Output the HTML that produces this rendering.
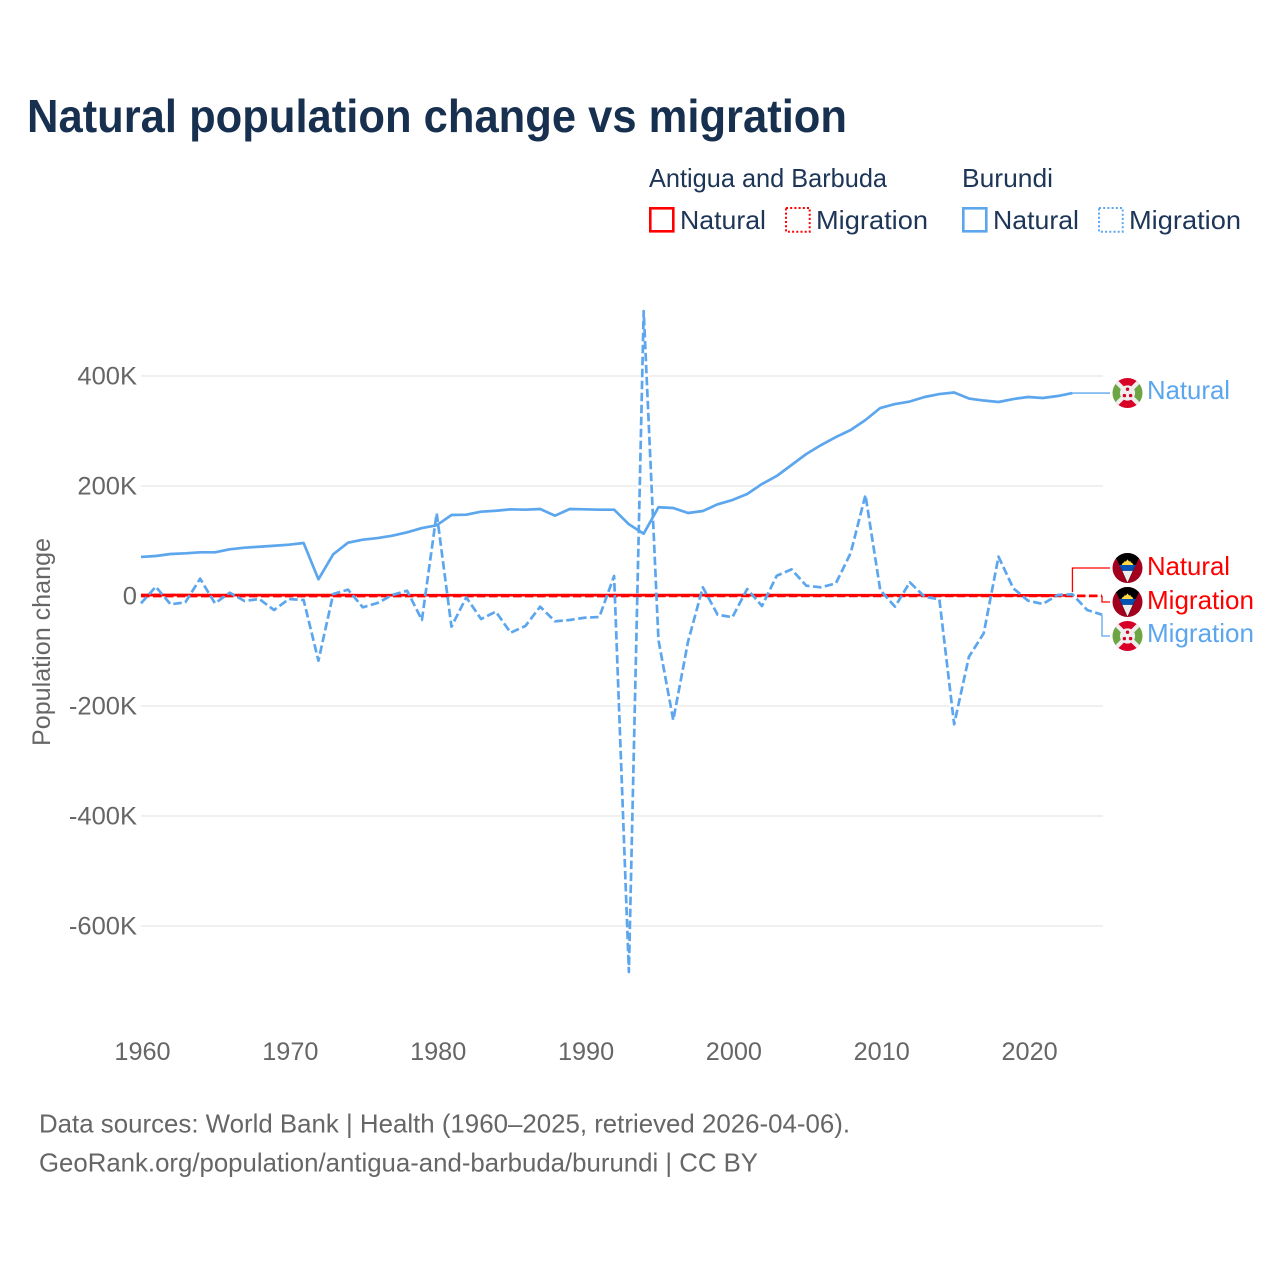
<!DOCTYPE html>
<html lang="en">
<head>
<meta charset="utf-8">
<title>Natural population change vs migration</title>
<style>
html,body{margin:0;padding:0;background:#fff;}
svg{display:block;}
text{font-family:"Liberation Sans",sans-serif;}
</style>
</head>
<body>
<svg id="chart" xmlns="http://www.w3.org/2000/svg" width="1280" height="1280" viewBox="0 0 1280 1280">
  <rect width="1280" height="1280" fill="#fff"/>
  <text x="27" y="132" font-size="46" font-weight="700" fill="#18304f" textLength="820" lengthAdjust="spacingAndGlyphs">Natural population change vs migration</text>

  <g font-size="26" fill="#1d3557">
    <text x="649" y="187" textLength="238" lengthAdjust="spacingAndGlyphs">Antigua and Barbuda</text>
    <text x="962" y="187" textLength="91" lengthAdjust="spacingAndGlyphs">Burundi</text>
    <g>
      <rect x="650.3" y="208.3" width="23" height="23" fill="none" stroke="#ff0000" stroke-width="2.6"/>
      <text x="680" y="229" textLength="86" lengthAdjust="spacingAndGlyphs">Natural</text>
    </g>
    <g>
      <rect x="786" y="208" width="23.7" height="23.7" fill="none" stroke="#ff0000" stroke-width="2" stroke-dasharray="2,2.2"/>
      <text x="816" y="229" textLength="112" lengthAdjust="spacingAndGlyphs">Migration</text>
    </g>
    <g>
      <rect x="963.3" y="208.3" width="23" height="23" fill="none" stroke="#5ca6ee" stroke-width="2.6"/>
      <text x="993" y="229" textLength="86" lengthAdjust="spacingAndGlyphs">Natural</text>
    </g>
    <g>
      <rect x="1099" y="208" width="23.7" height="23.7" fill="none" stroke="#5ca6ee" stroke-width="2" stroke-dasharray="2,2.2"/>
      <text x="1129" y="229" textLength="112" lengthAdjust="spacingAndGlyphs">Migration</text>
    </g>
  </g>

  <text transform="translate(50,642) rotate(-90)" text-anchor="middle" font-size="25" fill="#666" textLength="208" lengthAdjust="spacingAndGlyphs">Population change</text>

  <g id="grid"></g>
  <g id="yticks"></g>
  <g id="xticks"></g>
  <g id="connectors"></g>
  <g id="series"></g>

  <defs>
    <clipPath id="flag-clip"><circle cx="0" cy="0" r="15"/></clipPath>
  </defs>

  <g transform="translate(1127.5,393)">
    <g clip-path="url(#flag-clip)">
      <rect x="-15" y="-15" width="30" height="30" fill="#eee"/>
      <path d="M-15,-15L0,0L-15,15Z" fill="#6da544"/><path d="M15,-15L0,0L15,15Z" fill="#6da544"/>
      <path d="M-15,-15L0,0L15,-15Z" fill="#d80027"/><path d="M-15,15L0,0L15,15Z" fill="#d80027"/>
      <path d="M-15,-15L15,15M15,-15L-15,15" stroke="#eee" stroke-width="4.2" fill="none"/>
      <circle r="7.6" fill="#eee"/>
      <circle cx="0" cy="-3.8" r="1.7" fill="#d80027"/><circle cx="-3.1" cy="2.6" r="1.7" fill="#d80027"/><circle cx="3.1" cy="2.6" r="1.7" fill="#d80027"/>
    </g>
  </g>
  <g transform="translate(1127.5,636)">
    <g clip-path="url(#flag-clip)">
      <rect x="-15" y="-15" width="30" height="30" fill="#eee"/>
      <path d="M-15,-15L0,0L-15,15Z" fill="#6da544"/><path d="M15,-15L0,0L15,15Z" fill="#6da544"/>
      <path d="M-15,-15L0,0L15,-15Z" fill="#d80027"/><path d="M-15,15L0,0L15,15Z" fill="#d80027"/>
      <path d="M-15,-15L15,15M15,-15L-15,15" stroke="#eee" stroke-width="4.2" fill="none"/>
      <circle r="7.6" fill="#eee"/>
      <circle cx="0" cy="-3.8" r="1.7" fill="#d80027"/><circle cx="-3.1" cy="2.6" r="1.7" fill="#d80027"/><circle cx="3.1" cy="2.6" r="1.7" fill="#d80027"/>
    </g>
  </g>
  <g transform="translate(1127.5,568)">
    <g clip-path="url(#flag-clip)">
      <rect x="-15" y="-15" width="30" height="30" fill="#a2001d"/>
      <path d="M-15,-15H15V-9H11L0,15L-11,-9H-15Z" fill="#000"/>
      <path d="M-5.3,2.7L5.3,2.7L0,14.5Z" fill="#eee"/>
      <path d="M-8.3,-3L8.3,-3L5.4,2.7L-5.4,2.7Z" fill="#0052b4"/>
      <path d="M-6,-3L-4.3,-5.6L-3.8,-5L-2.5,-7.4L-1.8,-6.2L0,-8.6L1.8,-6.2L2.5,-7.4L3.8,-5L4.3,-5.6L6,-3Z" fill="#ffda44"/>
    </g>
  </g>
  <g transform="translate(1127.5,602)">
    <g clip-path="url(#flag-clip)">
      <rect x="-15" y="-15" width="30" height="30" fill="#a2001d"/>
      <path d="M-15,-15H15V-9H11L0,15L-11,-9H-15Z" fill="#000"/>
      <path d="M-5.3,2.7L5.3,2.7L0,14.5Z" fill="#eee"/>
      <path d="M-8.3,-3L8.3,-3L5.4,2.7L-5.4,2.7Z" fill="#0052b4"/>
      <path d="M-6,-3L-4.3,-5.6L-3.8,-5L-2.5,-7.4L-1.8,-6.2L0,-8.6L1.8,-6.2L2.5,-7.4L3.8,-5L4.3,-5.6L6,-3Z" fill="#ffda44"/>
    </g>
  </g>

  <g font-size="26">
    <text x="1147" y="399" fill="#5ca6ee" textLength="83" lengthAdjust="spacingAndGlyphs">Natural</text>
    <text x="1147" y="575" fill="#ff0000" textLength="83" lengthAdjust="spacingAndGlyphs">Natural</text>
    <text x="1147" y="609" fill="#ff0000" textLength="107" lengthAdjust="spacingAndGlyphs">Migration</text>
    <text x="1147" y="642" fill="#5ca6ee" textLength="107" lengthAdjust="spacingAndGlyphs">Migration</text>
  </g>

  <g font-size="26" fill="#666">
    <text x="39" y="1132.5" textLength="811" lengthAdjust="spacingAndGlyphs">Data sources: World Bank | Health (1960–2025, retrieved 2026-04-06).</text>
    <text x="39" y="1171.5" textLength="719" lengthAdjust="spacingAndGlyphs">GeoRank.org/population/antigua-and-barbuda/burundi | CC BY</text>
  </g>
</svg>
<script>
/* Values in thousands of people per year */
const years = [1960,1961,1962,1963,1964,1965,1966,1967,1968,1969,1970,1971,1972,1973,1974,1975,1976,1977,1978,1979,1980,1981,1982,1983,1984,1985,1986,1987,1988,1989,1990,1991,1992,1993,1994,1995,1996,1997,1998,1999,2000,2001,2002,2003,2004,2005,2006,2007,2008,2009,2010,2011,2012,2013,2014,2015,2016,2017,2018,2019,2020,2021,2022,2023,2024,2025];
const burundiNatural = [71,72.7,76.4,77.6,79.4,79.4,84.9,87.8,89.6,91.4,93.3,96.4,30.4,75.8,96.9,102.4,105.4,109.6,115.8,123.6,128.5,147.3,147.8,153.3,155,157.6,156.9,158.2,146,158.2,157.6,156.9,156.9,130.4,113.3,161.3,160,150.9,154.5,166.7,174.5,185.4,203.6,218.2,238.2,258.2,274.5,289,301.8,320,341.8,349,353.6,361.8,367.2,370,359,355.4,352.7,358.1,361.8,360,363.6,369];
const burundiMigration = [-13.3,16.9,-15.1,-11.5,31.5,-13.3,6,-9.1,-5.5,-25.5,-5.5,-7.3,-117.6,3.6,11.5,-20.5,-12.7,1.8,9.6,-43.6,150.4,-55.8,-2.4,-41.8,-28.5,-66.7,-54.5,-19.5,-46,-43.6,-39.5,-38.2,36.4,-683.6,518,-80,-225.5,-83,15.8,-34,-38.7,12.7,-18.2,36.9,48.5,18.7,15.8,23,78,183.6,10.9,-19.5,24.9,-1.3,-6,-233.3,-110.4,-67.8,71.5,14,-8.5,-14.5,1.8,3.1,-25.5,-34];
const antiguaNatural = [1.8,1.8,1.8,1.8,1.7,1.7,1.7,1.7,1.6,1.6,1.6,1.6,1.6,1.6,1.6,1.5,1.5,1.5,1.5,1.5,1.5,1.5,1.5,1.5,1.5,1.5,1.5,1.5,1.6,1.6,1.6,1.6,1.6,1.6,1.6,1.6,1.6,1.6,1.6,1.6,1.6,1.6,1.6,1.6,1.6,1.5,1.5,1.5,1.5,1.5,1.5,1.5,1.5,1.5,1.4,1.4,1.4,1.4,1.3,1.3,1.2,1.1,1,1];
const antiguaMigration = [-0.1,-0.1,-0.1,-0.1,-0.1,-0.1,-0.1,-0.1,-0.1,-0.1,-0.1,-0.1,-0.1,-0.1,-0.1,-0.1,-0.1,-0.1,-0.1,-0.1,-0.1,-0.1,-0.1,-0.1,-0.1,-0.1,-0.1,-0.1,0,0,0,0,0,0.1,0.1,0.2,0.2,0.2,0.2,0.3,0.3,0.3,0.3,0.3,0.3,0.3,0.3,0.3,0.3,0.3,0.3,0.3,0.3,0.3,0.3,0.3,0.3,0.3,0.3,0.3,0.3,0.3,0.3,0.3,0.3,0.3];
const yTickValues = [400,200,0,-200,-400,-600];
const xTickValues = [1960,1970,1980,1990,2000,2010,2020];

const NS = 'http://www.w3.org/2000/svg';
const COLOR_BLUE = '#5ca6ee';
const COLOR_RED = '#ff0000';
const DASH = '8.5,3.5';
const xAxis = v => 141 + (v - 1960) * (1102 - 141) / 65;
const yAxis = v => 596 - v * 0.55;

function mk(parent, tag, attrs, txt) {
  const el = document.createElementNS(NS, tag);
  for (const k in attrs) el.setAttribute(k, attrs[k]);
  if (txt !== undefined) el.textContent = txt;
  parent.appendChild(el);
  return el;
}
function fit(el, ratio) {
  const w = el.getComputedTextLength();
  el.setAttribute('textLength', (w * ratio).toFixed(1));
  el.setAttribute('lengthAdjust', 'spacingAndGlyphs');
}
function tickLabel(v) { return v === 0 ? '0' : v + 'K'; }

const gridG = document.getElementById('grid');
const yG = document.getElementById('yticks');
const xG = document.getElementById('xticks');
const seriesG = document.getElementById('series');
const connG = document.getElementById('connectors');

yTickValues.forEach(v => {
  const line = mk(gridG, 'line', {x1: 141, x2: 1103, y1: yAxis(v), y2: yAxis(v), stroke: '#e8e8e8', 'stroke-width': 1.3});
  
  
  const t = mk(yG, 'text', {x: 137, y: yAxis(v) + 8.5, 'text-anchor': 'end', 'font-size': 25, fill: '#666'}, tickLabel(v));
  
  
  fit(t, 1.02);
});

xTickValues.forEach(v => {
  const t = mk(xG, 'text', {x: xAxis(v) + 1.5, y: 1060, 'text-anchor': 'middle', 'font-size': 25, fill: '#666'}, String(v));
  
  
  fit(t, 1.01);
});

function linePath(values) {
  return values.map((v, i) => (i ? 'L' : 'M') + xAxis(years[i]).toFixed(2) + ',' + yAxis(v).toFixed(2)).join('');
}

[burundiNatural, burundiMigration].forEach(values => {
  const halo = mk(seriesG, 'path', {d: linePath(values), fill: 'none', stroke: '#fff', 'stroke-width': 4.4, 'stroke-linejoin': 'round'});
  
  
});

const lineAntiguaMigration = mk(seriesG, 'path', {d: linePath(antiguaMigration), fill: 'none', stroke: COLOR_RED, 'stroke-width': 2.7, 'stroke-dasharray': DASH, 'stroke-linejoin': 'round'});



const lineAntiguaNatural = mk(seriesG, 'path', {d: linePath(antiguaNatural), fill: 'none', stroke: COLOR_RED, 'stroke-width': 2.7, 'stroke-linejoin': 'round'});



const lineBurundiNatural = mk(seriesG, 'path', {d: linePath(burundiNatural), fill: 'none', stroke: COLOR_BLUE, 'stroke-width': 2.7, 'stroke-linejoin': 'round'});



const lineBurundiMigration = mk(seriesG, 'path', {d: linePath(burundiMigration), fill: 'none', stroke: COLOR_BLUE, 'stroke-width': 2.7, 'stroke-dasharray': DASH, 'stroke-linejoin': 'round'});



function connector(values, targetY, color, name) {
  const i = values.length - 1;
  const x0 = xAxis(years[i]);
  const y0 = yAxis(values[i]);
  const c = mk(connG, 'path', {d: 'M' + x0 + ',' + y0 + 'V' + targetY + 'H1110', fill: 'none', stroke: color, 'stroke-width': 1.3});
  
  
}
connector(burundiNatural, yAxis(burundiNatural[burundiNatural.length - 1]), COLOR_BLUE, 'connector-burundi-natural');
connector(antiguaNatural, 568, COLOR_RED, 'connector-antigua-natural');
connector(antiguaMigration, 602, COLOR_RED, 'connector-antigua-migration');
connector(burundiMigration, 636, COLOR_BLUE, 'connector-burundi-migration');
</script>
</body>
</html>
